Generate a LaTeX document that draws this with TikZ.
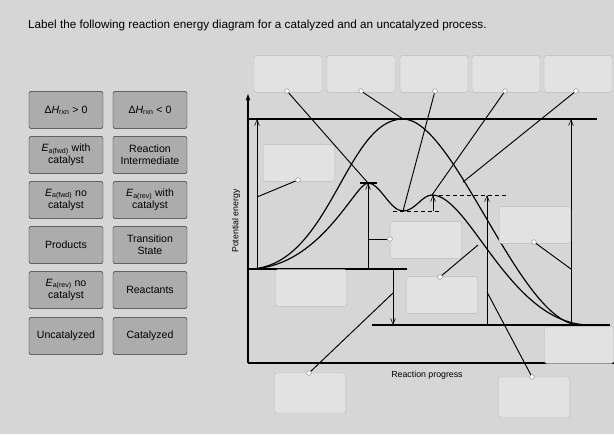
\documentclass[tikz,border=0pt]{standalone}
\usepackage{fontspec}
\setmainfont{Liberation Sans}
\usetikzlibrary{positioning,arrows.meta}
\definecolor{color1}{RGB}{214,214,214}
\definecolor{color2}{RGB}{172,172,172}
\definecolor{color3}{RGB}{226,226,226}
\definecolor{color4}{RGB}{188,188,188}

\begin{document}
\begin{tikzpicture}[x=0.03cm,y=-0.03cm]
\tikzset{card/.style={draw=black!80,fill=color2,rounded corners=2pt,minimum width=2.22cm,minimum height=1.12cm,align=center,inner sep=1pt,font=\fontsize{9}{10.5}\selectfont}}
\tikzset{slot/.style={draw=color4,fill=color3,rounded corners=2pt,minimum width=2.15cm,minimum height=1.1cm}}
\tikzset{knob/.style={circle,draw=black!45,fill=white,inner sep=0pt,minimum size=4pt}}
\tikzset{lead/.style={line width=0.8pt}}
\tikzset{flat/.style={line width=0.9pt}}
\tikzset{gap/.style={line width=0.5pt,-{Straight Barb[length=5pt,width=4pt]}}}
\tikzset{curve/.style={line width=1pt}}
% Fondo
\fill[color1] (0,0) rectangle (614,434);
\useasboundingbox (0,0) rectangle (614,434);
\node[anchor=west,font=\fontsize{10}{12}\selectfont] (title) at (24,25) {Label the following reaction energy diagram for a catalyzed and an uncatalyzed process.};
% Tarjetas
\node[card] (dHpos) at (66,110) {Δ\textit{H}\textsubscript{rxn} > 0};
\node[card] (dHneg) at (150,110) {Δ\textit{H}\textsubscript{rxn} < 0};
\node[card] (EafC) at (66,155) {\textit{E}\textsubscript{a(fwd)} with\\catalyst};
\node[card] (RI) at (150,155) {Reaction\\Intermediate};
\node[card] (EafN) at (66,200) {\textit{E}\textsubscript{a(fwd)} no\\catalyst};
\node[card] (EarC) at (150,200) {\textit{E}\textsubscript{a(rev)} with\\catalyst};
\node[card] (Prod) at (66,245) {Products};
\node[card] (TS) at (150,245) {Transition\\State};
\node[card] (EarN) at (66,290) {\textit{E}\textsubscript{a(rev)} no\\catalyst};
\node[card] (Reac) at (150,290) {Reactants};
\node[card] (Unc) at (66,336) {Uncatalyzed};
\node[card] (Cat) at (150,336) {Catalyzed};
% Ejes
\coordinate (O) at (248,363);
\coordinate (Ytop) at (248,93);
\coordinate (Xend) at (614,363);
\draw[line width=1pt,-{Latex[length=6pt,width=4pt]}] (O) -- (Ytop);
\draw[line width=1pt] (O) -- (Xend);
\node[rotate=90,font=\fontsize{7.5}{9}\selectfont] (ylab) at (236,221) {Potential energy};
\node[font=\fontsize{7.5}{9}\selectfont] (xlab) at (427,375) {Reaction progress};
% Niveles
\coordinate (R0) at (248,269);
\coordinate (R1) at (407,269);
\coordinate (P0) at (372,325);
\coordinate (P1) at (610,325);
\coordinate (T0) at (248,119);
\coordinate (T1) at (597,119);
\coordinate (TSu) at (403,119);
\coordinate (TS1) at (368,183);
\coordinate (Int) at (403,211);
\coordinate (TS2) at (432,195);
\coordinate (Pu) at (580,325);
\coordinate (Pc) at (590,325);
\draw[flat] (R0) -- (R1);
\draw[flat] (P0) -- (P1);
\draw[flat] (T0) -- (T1);
\draw[flat] (360,183) -- (377,183);
\draw[dashed,line width=0.7pt] (393,211) -- (442,211);
\draw[dashed,line width=0.7pt] (TS2) -- (506,195);
% Curvas
\draw[curve] (R0) .. controls (330,269) and (345,119) .. (TSu) .. controls (455,119) and (520,325) .. (Pu);
\draw[curve] (R0) .. controls (320,269) and (355,183) .. (TS1) .. controls (380,183) and (390,211) .. (Int) .. controls (415,211) and (422,195) .. (TS2) .. controls (470,195) and (510,325) .. (Pc);
% Flechas
\draw[gap] (257,269) -- (257,119);
\draw[gap] (368,269) -- (TS1);
\draw[gap] (433,211) -- (433,195);
\draw[gap] (487,325) -- (487,195);
\draw[gap] (571,325) -- (571,119);
\draw[gap] (393,269) -- (393,325);
% Casillas
\node[slot,minimum width=2.04cm] (s1) at (288,74) {};
\node[slot,minimum width=2.04cm] (s2) at (361,74) {};
\node[slot,minimum width=2.04cm] (s3) at (434,74) {};
\node[slot,minimum width=2.04cm] (s4) at (506,74) {};
\node[slot,minimum width=2.04cm] (s5) at (578,74) {};
\node[slot] (sA) at (299,163) {};
\node[slot] (sB) at (426,240) {};
\node[slot] (sC) at (535,225) {};
\node[slot] (sD) at (442,295) {};
\node[slot] (sE) at (311,288) {};
\node[slot,minimum width=2.07cm] (sF) at (579,345) {};
\node[slot,minimum height=1.2cm] (sG) at (310,393) {};
\node[slot,minimum height=1.2cm] (sH) at (534,397) {};
% Conectores
\coordinate (uA) at (257,197);
\coordinate (uB) at (368,239);
\coordinate (uC) at (571,269);
\coordinate (uD) at (478,245);
\coordinate (uG) at (393,293);
\coordinate (uH) at (487,292);
\coordinate (u5) at (463,182);
\node[knob] (k1) at (287,91) {};
\node[knob] (k2) at (361,91) {};
\node[knob] (k3) at (435,91) {};
\node[knob] (k4) at (505,91) {};
\node[knob] (k5) at (576,91) {};
\node[knob] (kA) at (298,180) {};
\node[knob] (kB) at (390,239) {};
\node[knob] (kC) at (534,242) {};
\node[knob] (kD) at (440,277) {};
\node[knob] (kG) at (309,373) {};
\node[knob] (kH) at (532,377) {};
\draw[lead] (k1) -- (TS1);
\draw[lead] (k2) -- (TSu);
\draw[lead] (k3) -- (Int);
\draw[lead] (k4) -- (TS2);
\draw[lead] (k5) -- (u5);
\draw[lead] (kA) -- (uA);
\draw[lead] (kB) -- (uB);
\draw[lead] (kC) -- (uC);
\draw[lead] (kD) -- (uD);
\draw[lead] (kG) -- (uG);
\draw[lead] (kH) -- (uH);
\end{tikzpicture}
\end{document}
